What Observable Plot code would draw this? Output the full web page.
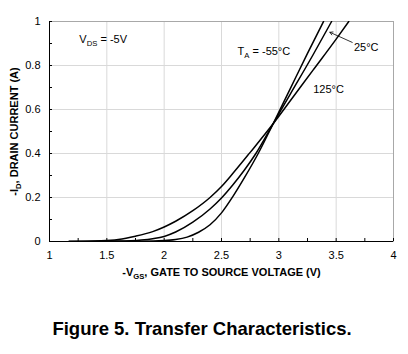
<!DOCTYPE html>
<html>
<head>
<meta charset="utf-8">
<script src="https://cdn.jsdelivr.net/npm/d3@7"></script>
<script src="https://cdn.jsdelivr.net/npm/@observablehq/plot@0.6"></script>
<style>
  body { margin: 0; background: #fff; font-family: "Liberation Sans", Arial, sans-serif; }
  #wrap { position: relative; width: 408px; height: 354px; }
  #title { position: absolute; left: 0; top: 317px; width: 404px; text-align: center;
           font: bold 18.5px "Liberation Sans", Arial, sans-serif; line-height: 24px; color: #000; }
</style>
</head>
<body>
<div id="wrap">
  <div id="chart"></div>
  <div id="title">Figure 5. Transfer Characteristics.</div>
</div>
<script>
// ---- data ----
const vgs125 = [1.17, 1.45, 1.6, 1.75, 1.9, 2.0, 2.1, 2.25, 2.4, 2.5, 2.6, 2.75, 2.95, 3.1, 3.3, 3.5, 3.61];
const id125  = [0, 0.003, 0.009, 0.024, 0.045, 0.066, 0.092, 0.14, 0.2, 0.25, 0.31, 0.405, 0.535, 0.64, 0.78, 0.92, 1.0];

const vgs25 = [1.17, 1.6, 1.8, 1.9, 2.0, 2.1, 2.25, 2.4, 2.5, 2.6, 2.7, 2.8, 2.95, 3.1, 3.3, 3.46];
const id25  = [0, 0.002, 0.007, 0.013, 0.023, 0.043, 0.088, 0.148, 0.198, 0.258, 0.325, 0.4, 0.535, 0.67, 0.85, 1.0];

const vgsM55 = [1.17, 1.8, 2.0, 2.1, 2.2, 2.3, 2.4, 2.5, 2.6, 2.7, 2.82, 2.95, 3.1, 3.25, 3.39];
const idM55  = [0, 0.001, 0.004, 0.009, 0.02, 0.042, 0.076, 0.13, 0.205, 0.29, 0.4, 0.535, 0.695, 0.855, 1.0];

const seriesNames = ["125°C", "25°C", "-55°C"];

const xMajorTicks = [1, 1.5, 2, 2.5, 3, 3.5, 4];
const xMinorTicks = [1, 1.25, 1.5, 1.75, 2, 2.25, 2.5, 2.75, 3, 3.25, 3.5, 3.75, 4];
const yMajorTicks = [0, 0.2, 0.4, 0.6, 0.8, 1];
const yMinorTicks = [0, 0.1, 0.2, 0.3, 0.4, 0.5, 0.6, 0.7, 0.8, 0.9, 1];

const xAxisTitle = "-V_{GS}, GATE TO SOURCE VOLTAGE (V)";
const yAxisTitle = "-I_{D}, DRAIN CURRENT (A)";

const noteText = ["V_{DS} = -5V", "T_{A} = -55°C", "25°C", "125°C"];
const noteX    = [1.26, 2.64, 3.655, 3.30];
const noteY    = [0.918, 0.864, 0.884, 0.69];

const arrowFrom = [{x: 3.64, y: 0.905}];
const arrowTo   = [{x: 3.445, y: 0.951}];

// ---- build tables ----
const rows = [];
[[vgs125, id125], [vgs25, id25], [vgsM55, idM55]].forEach(([xs, ys], i) => {
  xs.forEach((v, j) => rows.push({series: seriesNames[i], vgs: v, id: ys[j]}));
});
const notes = noteText.map((t, i) => ({t, x: noteX[i], y: noteY[i]}));
const arrows = arrowFrom.map((a, i) => ({x1: a.x, y1: a.y, x2: arrowTo[i].x, y2: arrowTo[i].y}));

const font = "'Liberation Sans', Arial, sans-serif";

const chart = Plot.plot({
  width: 408,
  height: 290,
  marginLeft: 49,
  marginRight: 15,
  marginTop: 21,
  marginBottom: 49,
  style: {fontFamily: font, fontSize: "11px", color: "#000", background: "#fff"},
  x: {domain: [1, 4], label: null},
  y: {domain: [0, 1], label: null},
  marks: [
    Plot.gridX(xMajorTicks, {stroke: "#d9d9d9", strokeOpacity: 1}),
    Plot.gridY(yMajorTicks, {stroke: "#d9d9d9", strokeOpacity: 1}),
    Plot.frame({stroke: "#a8a8a8"}),
    Plot.ruleX([1], {stroke: "#000"}),
    Plot.ruleY([0], {stroke: "#000"}),
    Plot.axisY(yMinorTicks, {tickSize: -3, tickFormat: () => "", label: null}),
    Plot.axisY(yMajorTicks, {tickSize: 0, tickPadding: 9, tickFormat: d3.format("~g"), label: null, fontSize: 11}),
    Plot.axisX(xMinorTicks, {tickSize: -3, tickFormat: () => "", label: null}),
    Plot.axisX(xMajorTicks, {tickSize: 0, tickPadding: 10, tickFormat: d3.format("~g"), label: null, fontSize: 11}),
    Plot.line(rows, {x: "vgs", y: "id", z: "series", stroke: "#000", strokeWidth: 1.5, curve: "monotone-x", clip: true}),
    Plot.arrow(arrows, {x1: "x1", y1: "y1", x2: "x2", y2: "y2", stroke: "#000", strokeWidth: 0.8, headLength: 6}),
    Plot.text(notes, {x: "x", y: "y", text: "t", textAnchor: "start", fontSize: 11}),
    Plot.text([xAxisTitle], {frameAnchor: "bottom", dy: 34, textAnchor: "middle", fontWeight: "bold", fontSize: 11}),
    Plot.text([yAxisTitle], {frameAnchor: "left", dx: -35, rotate: -90, textAnchor: "middle", fontWeight: "bold", fontSize: 11})
  ]
});

// render subscripts written as _{...}
function applySubscripts(svg) {
  const ns = "http://www.w3.org/2000/svg";
  svg.querySelectorAll("text").forEach(t => {
    if (t.children.length > 0) return;
    const s = t.textContent;
    if (!s.includes("_{")) return;
    t.textContent = "";
    const re = /_\{([^}]*)\}/g;
    let last = 0, m, pendingUp = false;
    while ((m = re.exec(s)) !== null) {
      const before = s.slice(last, m.index);
      if (before) {
        const ts = document.createElementNS(ns, "tspan");
        ts.textContent = before;
        if (pendingUp) { ts.setAttribute("dy", "-3"); pendingUp = false; }
        t.appendChild(ts);
      }
      const sub = document.createElementNS(ns, "tspan");
      sub.textContent = m[1];
      sub.setAttribute("dy", "3");
      sub.setAttribute("font-size", "70%");
      t.appendChild(sub);
      pendingUp = true;
      last = re.lastIndex;
    }
    const rest = s.slice(last);
    if (rest) {
      const ts = document.createElementNS(ns, "tspan");
      ts.textContent = rest;
      if (pendingUp) ts.setAttribute("dy", "-3");
      t.appendChild(ts);
    }
  });
}
applySubscripts(chart);
document.getElementById("chart").appendChild(chart);
</script>
</body>
</html>
